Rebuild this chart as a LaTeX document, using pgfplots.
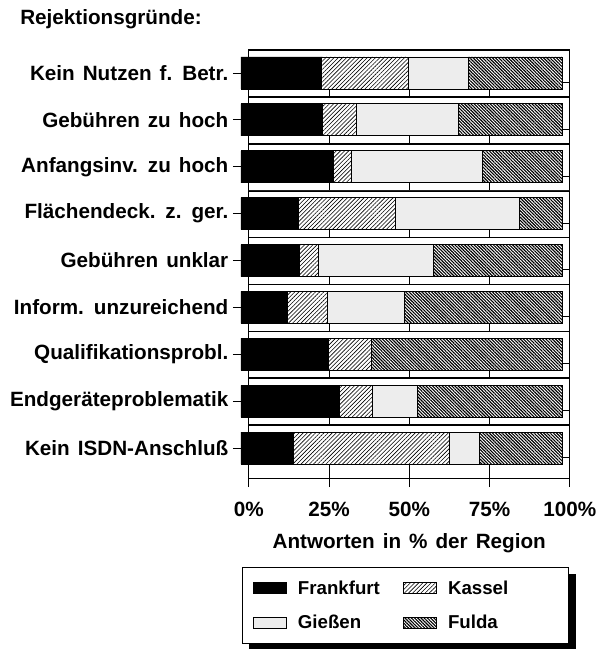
\documentclass[border=0pt]{standalone}
\usepackage{fontspec}
\setmainfont{Liberation Sans}[WordSpace=1.4]
\usepackage{pgfplots}
\pgfplotsset{compat=1.18}
\usetikzlibrary{patterns.meta,backgrounds}
\newcommand{\lbl}{\fontsize{15.5}{18}\selectfont\bfseries}
\newcommand{\lgd}{\fontsize{14}{16}\selectfont\bfseries}
\pgfplotsset{
  lgimg/.style={legend image code/.code={\draw[##1, line width=0.6pt] (0pt,-4.1pt) rectangle (24.75pt,4.1pt); \path (31pt,0pt);}},
}
\begin{document}
\begin{tikzpicture}
% back wall and shelves
\begin{axis}[name=back, at={(5.8pt,0pt)}, anchor=north west, scale only axis,
  width=240.75pt, height=321.5pt,
  xmin=0, xmax=100, ymin=0.5, ymax=9.64, y dir=reverse, clip=false,
  xtick={0,25,50,75,100}, xticklabels={0\%,25\%,50\%,75\%,100\%},
  xtick pos=bottom, tick align=outside, major tick length=6.75pt,
  xmajorgrids, ymajorgrids, ytick={1.5,2.5,...,8.5}, yticklabels={},
  ytick style={draw=none},
  grid style={black, line width=0.5pt}, axis line style={line width=0.6pt},
  x tick style={black, line width=0.6pt},
  xticklabel style={font=\lbl, yshift=-8pt},
  xlabel={Antworten in \% der Region},
  xlabel style={font=\lbl, at={(0.5,0)}, anchor=base, yshift=-52.5pt},
]
\addplot[xbar, fill=white, draw=black, line width=0.6pt, bar width=24pt, bar shift=5pt]
  coordinates {(100,1) (100,2) (100,3) (100,4) (100,5) (100,6) (100,7) (100,8) (100,9)};
\end{axis}
% front bars
\begin{axis}[name=front, at={(0pt,0pt)}, anchor=north west, scale only axis,
  width=240.75pt, height=316.6pt,
  xbar stacked, bar width=24pt,
  xmin=0, xmax=100, ymin=0.5, ymax=9.5, y dir=reverse, clip=false,
  separate axis lines, axis line style={draw=none}, xtick=\empty,
  ytick={1,2,3,4,5,6,7,8,9},
  yticklabels={Kein Nutzen f. Betr., Gebühren zu hoch, Anfangsinv. zu hoch, Flächendeck. z. ger., Gebühren unklar, Inform. unzureichend, Qualifikationsprobl., Endgeräteproblematik, Kein ISDN-Anschluß},
  ytick pos=left, tick align=outside, major tick length=6pt,
  y tick style={black, line width=0.6pt},
  yticklabel style={font=\lbl},
  title={Rejektionsgründe:},
  title style={font=\lbl, at={(0,1)}, anchor=base west, inner sep=0pt, xshift=-165.75pt, yshift=13pt},
  legend columns=2,
  legend style={name=leg, at={(0.0034,0)}, anchor=north west, yshift=-71.6pt, draw=black, fill=white, line width=0.6pt,
    font=\lgd, inner xsep=8pt, inner ysep=7.75pt, row sep=10.5pt,
    /tikz/every even column/.append style={column sep=8pt}},
  legend cell align=left,
]
\addplot[fill=black, draw=black, line width=0.6pt, lgimg] coordinates
  {(25.2,1) (25.4,2) (28.9,3) (17.9,4) (18.2,5) (14.5,6) (27.1,7) (30.7,8) (16.4,9)};
\addlegendentry{\makebox[69pt][l]{Frankfurt}}
\addplot[draw=black, fill=white, line width=0.6pt, postaction={pattern={Lines[angle=45,distance=2.2pt,line width=0.45pt]}, pattern color=black}, lgimg] coordinates
  {(27.0,1) (10.5,2) (5.5,3) (30.3,4) (6.0,5) (12.3,6) (13.5,7) (10.2,8) (48.6,9)};
\addlegendentry{\makebox[80.5pt][l]{Kassel}}
\addplot[fill=black!7, draw=black, line width=0.6pt, lgimg] coordinates
  {(18.7,1) (31.9,2) (40.9,3) (38.4,4) (35.8,5) (24.1,6) (0,7) (13.9,8) (9.2,9)};
\addlegendentry{Gießen}
\addplot[draw=black, fill=white, line width=0.6pt, postaction={pattern={Lines[angle=-45,distance=1.7pt,line width=0.85pt]}, pattern color=black}, lgimg] coordinates
  {(29.1,1) (32.2,2) (24.7,3) (13.4,4) (40.0,5) (49.1,6) (59.4,7) (45.2,8) (25.8,9)};
\addlegendentry{Fulda}
\end{axis}
\begin{pgfonlayer}{background}
\fill[black] ([xshift=5.25pt,yshift=-5.25pt]leg.south west) rectangle ([xshift=5.25pt,yshift=-5.25pt]leg.north east);
\end{pgfonlayer}
\pgfresetboundingbox
\path ([xshift=-180.75pt,yshift=37.125pt]front.north west) rectangle ++(449.25pt,-486.75pt);
\end{tikzpicture}
\end{document}
